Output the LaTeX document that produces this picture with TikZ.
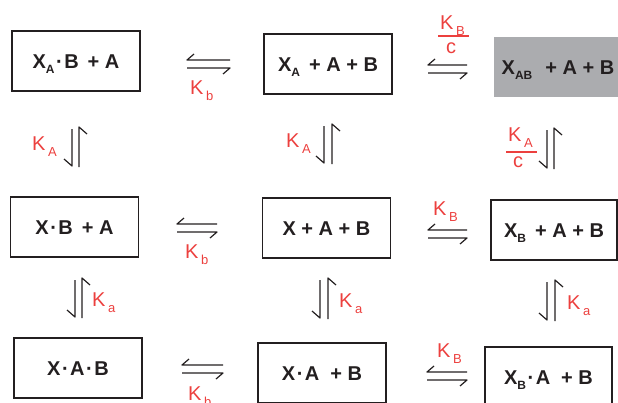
\documentclass[tikz,border=0pt]{standalone}
\usepackage{fontspec}
\setmainfont{Liberation Sans}
\usetikzlibrary{calc}
\definecolor{ink}{RGB}{35,31,32}
\definecolor{kred}{RGB}{236,64,62}
\definecolor{shade}{RGB}{171,172,175}
\newcommand\sbx[1]{\raisebox{-5.5pt}{\fontsize{12}{12}\selectfont #1}}
\newcommand\rsb[1]{\kern2.5pt\raisebox{-6pt}{\fontsize{13}{13}\selectfont #1}}
\newcommand\dotc{\kern1.5pt\textperiodcentered\kern1.5pt}
\newcommand\eqh[4]{%
  \coordinate (#1tl) at (#2,#4); \coordinate (#1tr) at (#3,#4);
  \coordinate (#1bl) at (#2,#4+8); \coordinate (#1br) at (#3,#4+8);
  \draw[eq] (#1tr) -- (#1tl) -- ++(7,-6);
  \draw[eq] (#1bl) -- (#1br) -- ++(-7,6);}
\newcommand\eqv[5]{%
  \coordinate (#1lt) at (#2,#4+2); \coordinate (#1lb) at (#2,#5);
  \coordinate (#1rt) at (#3,#4); \coordinate (#1rb) at (#3,#5+1);
  \draw[eq] (#1lt) -- (#1lb) -- ++(-8,-7);
  \draw[eq] (#1rb) -- (#1rt) -- ++(8,7);}
\tikzset{
  box/.style={draw=ink, line width=1.3pt, minimum width=128pt, minimum height=60pt,
    inner sep=0pt, text height=14pt, text depth=0pt,
    font=\fontsize{20}{22}\selectfont\bfseries, text=ink},
  eq/.style={draw=ink, line width=1.2pt, line join=round},
  lab/.style={text=kred, font=\fontsize{20}{22}\selectfont, inner sep=0pt, anchor=base west},
  fracline/.style={draw=kred, line width=1.1pt},
}
\begin{document}
\begin{tikzpicture}[x=1pt,y=-1pt]
\useasboundingbox (0,0) rectangle (618,402);
% boxes
\node[box] (b1) at (76,61) {X\sbx{A}\dotc B\hspace{9pt}+ A};
\node[box] (b2) at (328,64) {X\sbx{A}\hspace{9pt}+ A + B};
\node[box, draw=none, fill=shade] (b3) at (558,67) {X\sbx{AB}\hspace{13pt}+ A + B};
\node[box] (b4) at (74.5,227) {X\dotc B\hspace{9pt}+ A};
\node[box] (b5) at (326.5,228) {X + A + B};
\node[box, minimum width=126pt] (b6) at (554,230) {X\sbx{B}\hspace{9pt}+ A + B};
\node[box] (b7) at (78,368) {X\dotc A\dotc B};
\node[box] (b8) at (322,373) {X\dotc A\hspace{11pt}+ B};
\node[box, minimum width=127pt] (b9) at (548.5,377) {X\sbx{B}\dotc A\hspace{11pt}+ B};
% horizontal equilibria
\eqh{h1}{187}{230}{60}
\eqh{h2}{428}{467}{65}
\eqh{h3}{177}{217}{224}
\eqh{h4}{428}{467}{230}
\eqh{h5}{182}{223}{365}
\eqh{h6}{427}{467}{372}
% vertical equilibria
\eqv{v1}{72}{79}{127}{166}
\eqv{v2}{324}{332}{124}{163}
\eqv{v3}{547}{554}{128}{168}
\eqv{v4}{75}{82}{278}{317}
\eqv{v5}{320}{328}{278}{318}
\eqv{v6}{547}{555}{280}{320}
% labels
\node[lab] (kb1) at (190,94) {K\rsb{b}};
\node[lab] (kB1) at (440,29) {K\rsb{B}};
\node[lab] (c1) at (446,53) {c};
\draw[fracline] (438,36) -- (469,36);
\node[lab] (kb2) at (185,258) {K\rsb{b}};
\node[lab] (kB2) at (433,215) {K\rsb{B}};
\node[lab] (kb3) at (188,400) {K\rsb{b}};
\node[lab] (kB3) at (437,357) {K\rsb{B}};
\node[lab] (kA1) at (32,150) {K\rsb{A}};
\node[lab] (kA2) at (286,147) {K\rsb{A}};
\node[lab] (kA3) at (508,141) {K\rsb{A}};
\node[lab] (c2) at (513,167) {c};
\draw[fracline] (506,152) -- (537,152);
\node[lab] (ka4) at (92,306) {K\rsb{a}};
\node[lab] (ka5) at (339,307) {K\rsb{a}};
\node[lab] (ka6) at (567,309) {K\rsb{a}};
\end{tikzpicture}
\end{document}
